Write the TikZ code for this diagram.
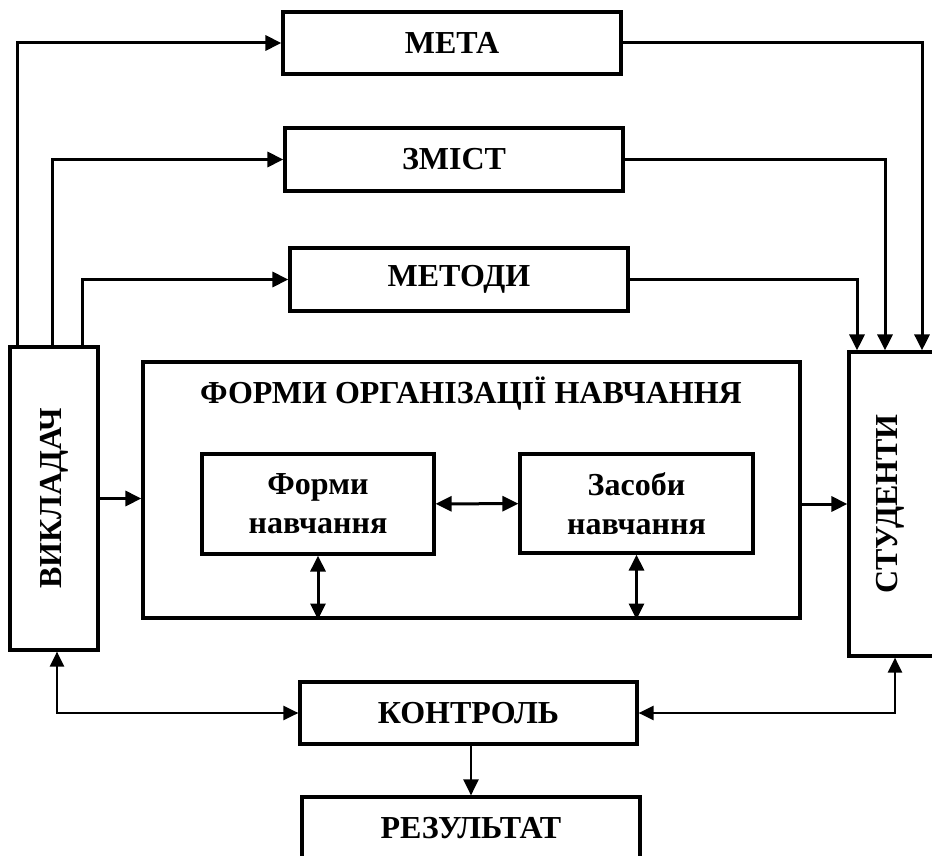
\documentclass[tikz,border=0pt]{standalone}
\usepackage{fontspec}
\setmainfont{Liberation Serif}
\usepackage{graphicx}
\usetikzlibrary{arrows.meta, positioning}
\newcommand{\blockfont}{\fontsize{32}{39}\selectfont\bfseries}
\tikzset{
    block/.style={
        rectangle, draw=black, line width=3.2pt,
        inner sep=0pt, fill=white, align=center,
        font=\blockfont
    },
    heading/.style={font=\blockfont, inner sep=0pt},
    wire/.style={draw=black, line width=3pt, -{Triangle[length=16pt,width=15pt]}},
    twoway/.style={draw=black, line width=3pt, {Triangle[length=16pt,width=15pt]}-{Triangle[length=16pt,width=15pt]}},
    thinway/.style={draw=black, line width=2.3pt, {Triangle[length=15pt,width=14pt]}-{Triangle[length=15pt,width=14pt]}}
}

\begin{document}
\begin{tikzpicture}[x=1pt, y=-1pt]
\useasboundingbox (0,0) rectangle (932,856);

% Top blocks
\node[block, minimum width=338pt, minimum height=62pt] (meta) at (452,43) {МЕТА};
\node[block, minimum width=338pt, minimum height=63pt] (zmist) at (454,159.5) {ЗМІСТ};
\node[block, minimum width=338pt, minimum height=63pt] (metody) at (459,279.5) {МЕТОДИ};

% Side blocks
\node[block, minimum width=88pt, minimum height=303pt] (vykladach) at (54,498.5) {\rotatebox{90}{ВИКЛАДАЧ}};
\node[block, minimum width=92pt, minimum height=304pt] (studenty) at (895,504) {\rotatebox{90}{СТУДЕНТИ}\hspace*{9pt}};

% Forms of organisation
\node[block, minimum width=657pt, minimum height=256pt] (forms) at (471.5,490) {};
\node[heading] (formstitle) at (471,394) {ФОРМИ ОРГАНІЗАЦІЇ НАВЧАННЯ};
\node[block, minimum width=232pt, minimum height=100pt] (formy) at (318,504) {Форми\\навчання};
\node[block, minimum width=233pt, minimum height=99pt] (zasoby) at (636.5,503.5) {Засоби\\навчання};

% Control and result
\node[block, minimum width=337pt, minimum height=62pt] (kontrol) at (468.5,713) {КОНТРОЛЬ};
\node[block, minimum width=338pt, minimum height=63pt] (rezultat) at (471,828.5) {РЕЗУЛЬТАТ};

% Lanes
\coordinate (lane1) at (17,0);
\coordinate (lane2) at (52,0);
\coordinate (lane3) at (82,0);
\coordinate (lane4) at (922,0);
\coordinate (lane5) at (885,0);
\coordinate (lane6) at (857,0);
\coordinate (lane7) at (57,0);
\coordinate (lane8) at (895,0);

\draw[wire] (lane1 |- vykladach.north) |- (meta);
\draw[wire] (lane2 |- vykladach.north) |- (zmist);
\draw[wire] (lane3 |- vykladach.north) |- (metody);

\draw[wire] (meta) -| (lane4 |- studenty.north);
\draw[wire] (zmist) -| (lane5 |- studenty.north);
\draw[wire] (metody) -| (lane6 |- studenty.north);

\draw[wire] (vykladach) -- (vykladach -| forms.west);
\draw[wire] (forms.east |- studenty) -- (studenty);

\draw[twoway] (formy) -- (zasoby);
\draw[twoway] (formy) -- (formy |- forms.south);
\draw[twoway] (zasoby) -- (zasoby |- forms.south);

\draw[thinway] (lane7 |- vykladach.south) |- (kontrol);
\draw[thinway] (lane8 |- studenty.south) |- (kontrol);
\draw[wire, line width=2.3pt] (rezultat |- kontrol.south) -- (rezultat);

\end{tikzpicture}
\end{document}
